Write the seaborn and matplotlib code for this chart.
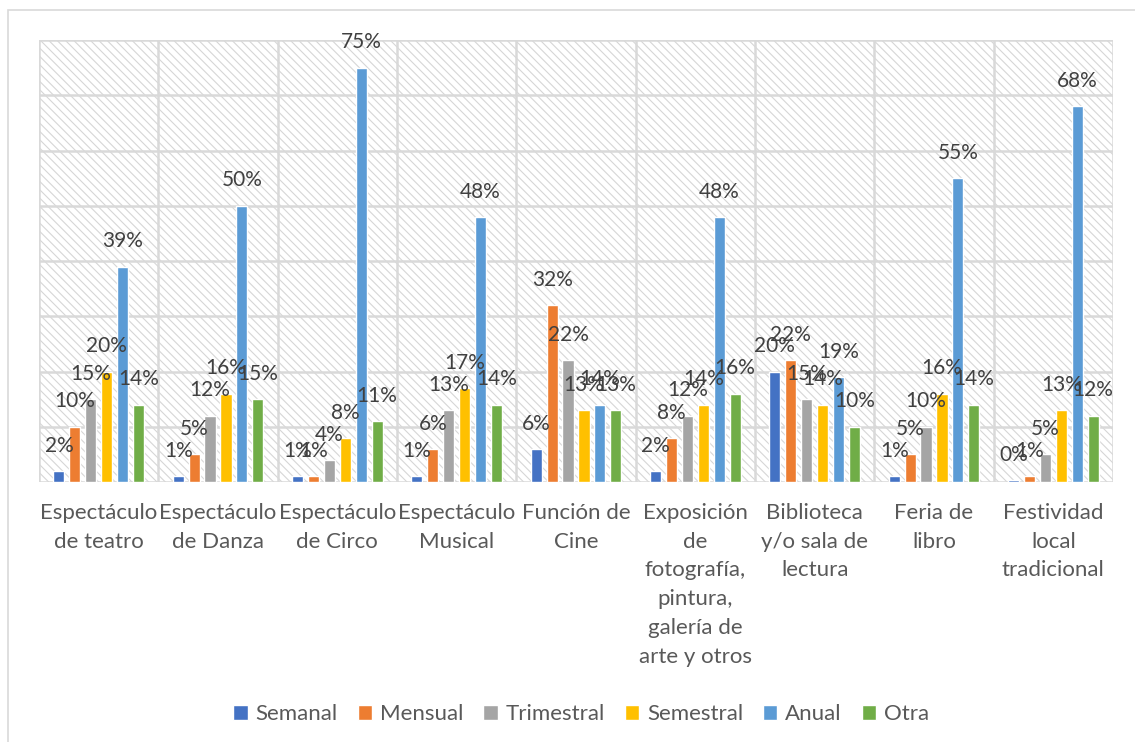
import matplotlib
matplotlib.use("Agg")
import matplotlib.pyplot as plt
from matplotlib.patches import Rectangle
import seaborn as sns
import pandas as pd

# categories (x axis) and frequency series
categorias = ["Espectáculo\nde teatro", "Espectáculo\nde Danza", "Espectáculo\nde Circo",
              "Espectáculo\nMusical", "Función de\nCine",
              "Exposición\nde\nfotografía,\npintura,\ngalería de\narte y otros",
              "Biblioteca\ny/o sala de\nlectura", "Feria de\nlibro", "Festividad\nlocal\ntradicional"]
frecuencias = ["Semanal", "Mensual", "Trimestral", "Semestral", "Anual", "Otra"]

# percentages per frequency, one value per category
semanal = [2, 1, 1, 1, 6, 2, 20, 1, 0.3]
mensual = [10, 5, 1, 6, 32, 8, 22, 5, 1]
trimestral = [15, 12, 4, 13, 22, 12, 15, 10, 5]
semestral = [20, 16, 8, 17, 13, 14, 14, 16, 13]
anual = [39, 50, 75, 48, 14, 48, 19, 55, 68]
otra = [14, 15, 11, 14, 13, 16, 10, 14, 12]

colores = ["#4472C4", "#ED7D31", "#A5A5A5", "#FFC000", "#5B9BD5", "#70AD47"]

series = [semanal, mensual, trimestral, semestral, anual, otra]
rows = []
for f, vals in zip(frecuencias, series):
    for c, v in zip(categorias, vals):
        rows.append({"categoria": c, "frecuencia": f, "valor": v})
df = pd.DataFrame(rows)

sns.set_style("white")
plt.rcParams["font.family"] = ["Lato", "DejaVu Sans"]
plt.rcParams["hatch.linewidth"] = 0.8

fig = plt.figure(figsize=(11.35, 7.42), dpi=100)
ax = fig.add_axes([39 / 1135, 1 - 482 / 742, (1113 - 39) / 1135, (482 - 40) / 742])

# chart area border
fig.patches.append(Rectangle((8 / 1135, -0.1), 1.2, 1.1 - 10 / 742, transform=fig.transFigure,
                             fill=False, edgecolor="#D9D9D9", linewidth=1.2, zorder=0))

# hatched plot area background
ax.add_patch(Rectangle((0, 0), 1, 1, transform=ax.transAxes, facecolor="white",
                       edgecolor="#D6D6D6", hatch="\\\\\\\\", linewidth=0, zorder=0.1))

sns.barplot(data=df, x="categoria", y="valor", hue="frecuencia", order=categorias,
            hue_order=frecuencias, palette=colores, width=0.8, gap=0.3,
            saturation=1, errorbar=None, ax=ax, zorder=3)

for cont in ax.containers:
    ax.bar_label(cont, labels=[f"{v:.0f}%" for v in cont.datavalues], padding=11,
                 fontsize=15, color="#404040", zorder=4)

ax.set_ylim(0, 80)
ax.set_xlim(-0.5, len(categorias) - 0.5)
ax.set_yticks(range(0, 81, 10))
ax.set_yticklabels([])
ax.set_xticks(range(len(categorias)))
ax.set_xticklabels(categorias, fontsize=16, color="#595959", linespacing=1.55, va="top")
ax.set_xticks([i - 0.5 for i in range(len(categorias) + 1)], minor=True)
ax.tick_params(axis="both", which="both", length=0)
ax.tick_params(axis="x", pad=15)
ax.grid(axis="y", color="#D9D9D9", linewidth=1.8, zorder=1)
ax.grid(axis="x", which="minor", color="#D9D9D9", linewidth=1.8, zorder=1)
ax.grid(axis="x", which="major", visible=False)
ax.set_axisbelow(True)
for s in ax.spines.values():
    s.set_visible(False)
ax.set_xlabel("")
ax.set_ylabel("")

handles, labels = ax.get_legend_handles_labels()
ax.get_legend().remove()
fig.legend(handles, labels, loc="center", bbox_to_anchor=(0.512, 1 - 714 / 742), ncol=6,
           frameon=False, fontsize=16, labelcolor="#595959", handlelength=0.65,
           handleheight=0.65, handletextpad=0.35, columnspacing=0.9)

fig.savefig("out.png", dpi=100)
